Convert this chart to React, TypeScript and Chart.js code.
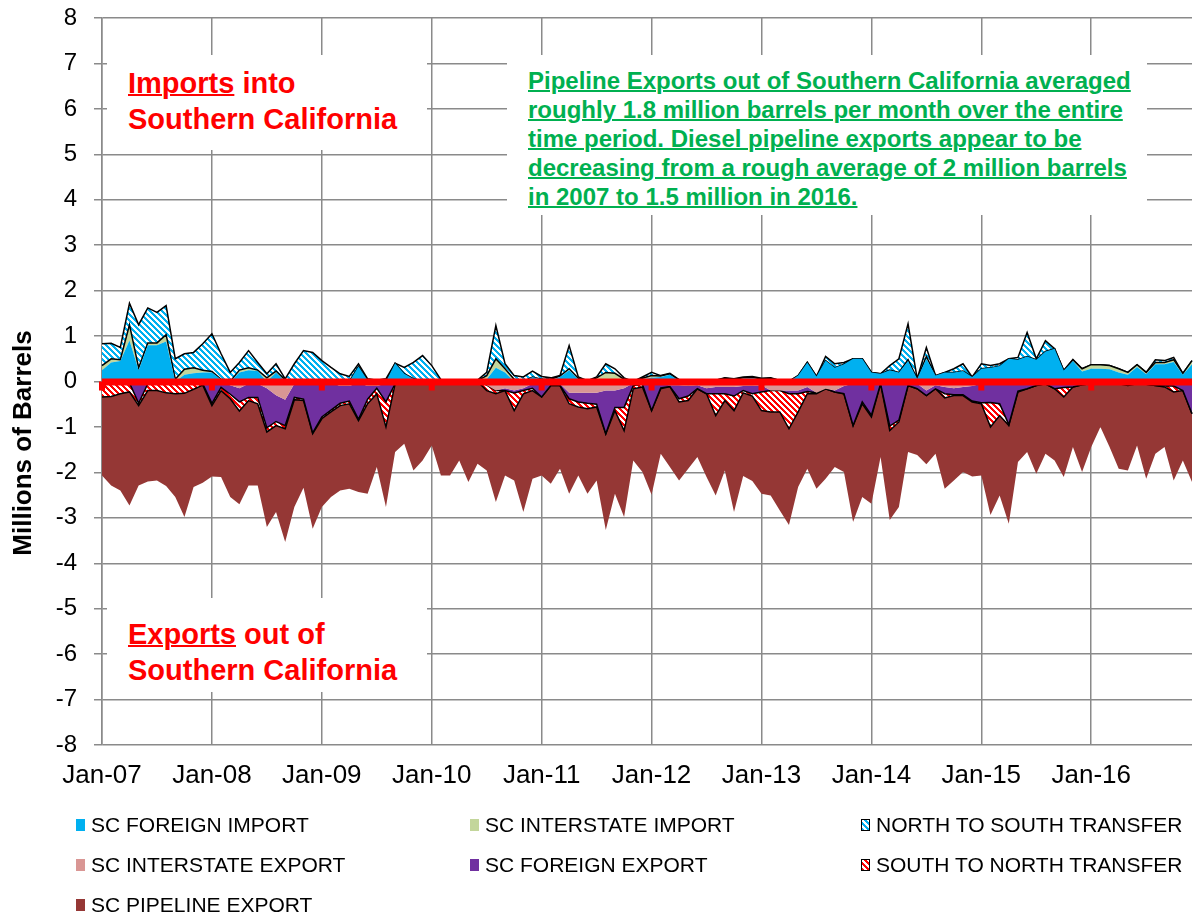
import React, { useEffect, useRef } from 'react';
import { Chart, registerables } from 'chart.js';

Chart.register(...registerables);

const MONTH_NAMES = ['Jan', 'Feb', 'Mar', 'Apr', 'May', 'Jun', 'Jul', 'Aug', 'Sep', 'Oct', 'Nov', 'Dec'];
const YEAR_SUFFIXES = ['07', '08', '09', '10', '11', '12', '13', '14', '15', '16'];
const categories: string[] = YEAR_SUFFIXES.flatMap((y) => MONTH_NAMES.map((m) => `${m}-${y}`));

const yearTickLabels = ['Jan-07', 'Jan-08', 'Jan-09', 'Jan-10', 'Jan-11', 'Jan-12', 'Jan-13', 'Jan-14', 'Jan-15', 'Jan-16'];

// Millions of barrels per month
const scForeignImport = [
  0.25, 0.42, 0.45, 0.9, 0.25, 0.8, 0.8, 0.88, 0.0, 0.15, 0.18, 0.2,
  0.2, 0.05, 0.0, 0.2, 0.25, 0.23, 0.0, 0.2, 0.0, 0.0, 0.0, 0.0,
  0.0, 0.0, 0.0, 0.0, 0.33, 0.03, 0.0, 0.0, 0.4, 0.17, 0.06, 0.0,
  0.0, 0.0, 0.0, 0.0, 0.0, 0.0, 0.05, 0.3, 0.2, 0.0, 0.0, 0.1,
  0.05, 0.03, 0.1, 0.25, 0.05, 0.0, 0.05, 0.05, 0.0, 0.0, 0.0, 0.05,
  0.08, 0.1, 0.15, 0.02, 0.02, 0.02, 0.02, 0.02, 0.05, 0.04, 0.06, 0.07,
  0.04, 0.05, 0.01, 0.0, 0.13, 0.42, 0.11, 0.46, 0.3, 0.38, 0.5, 0.5,
  0.2, 0.17, 0.25, 0.2, 0.45, 0.06, 0.5, 0.13, 0.2, 0.2, 0.23, 0.1,
  0.28, 0.3, 0.34, 0.5, 0.48, 0.55, 0.48, 0.66, 0.72, 0.24, 0.45, 0.22,
  0.28, 0.28, 0.27, 0.2, 0.15, 0.32, 0.16, 0.38, 0.38, 0.43, 0.15, 0.38,
];

const scInterstateImport = [
  0.1, 0.08, 0.03, 0.35, 0.05, 0.05, 0.05, 0.15, 0.05, 0.12, 0.12, 0.05,
  0.02, 0.0, 0.0, 0.05, 0.05, 0.02, 0.08, 0.03, 0.03, 0.0, 0.0, 0.0,
  0.0, 0.0, 0.0, 0.0, 0.0, 0.0, 0.0, 0.0, 0.0, 0.0, 0.0, 0.0,
  0.0, 0.0, 0.0, 0.0, 0.0, 0.02, 0.08, 0.2, 0.08, 0.05, 0.0, 0.0,
  0.0, 0.02, 0.02, 0.03, 0.02, 0.0, 0.03, 0.15, 0.18, 0.05, 0.0, 0.02,
  0.05, 0.02, 0.02, 0.01, 0.01, 0.01, 0.01, 0.01, 0.02, 0.01, 0.02, 0.02,
  0.02, 0.02, 0.01, 0.0, 0.0, 0.0, 0.0, 0.0, 0.0, 0.0, 0.0, 0.0,
  0.0, 0.0, 0.0, 0.0, 0.03, 0.0, 0.05, 0.0, 0.0, 0.0, 0.0, 0.0,
  0.0, 0.0, 0.0, 0.0, 0.0, 0.0, 0.0, 0.0, 0.0, 0.0, 0.03, 0.06,
  0.09, 0.09, 0.08, 0.08, 0.05, 0.05, 0.04, 0.04, 0.04, 0.05, 0.03, 0.08,
];

const northToSouthTransfer = [
  0.48, 0.34, 0.27, 0.47, 0.95, 0.77, 0.67, 0.64, 0.45, 0.34, 0.34, 0.58,
  0.83, 0.56, 0.2, 0.17, 0.38, 0.17, 0.09, 0.16, 0.03, 0.39, 0.68, 0.64,
  0.46, 0.31, 0.17, 0.11, 0.06, 0.03, 0.03, 0.06, 0.0, 0.14, 0.36, 0.57,
  0.35, 0.04, 0.0, 0.0, 0.0, 0.01, 0.07, 0.73, 0.11, 0.08, 0.1, 0.13,
  0.06, 0.03, 0.01, 0.51, 0.03, 0.02, 0.02, 0.19, 0.1, 0.03, 0.0, 0.03,
  0.07, 0.01, 0.01, 0.01, 0.0, 0.0, 0.0, 0.0, 0.01, 0.01, 0.02, 0.02,
  0.01, 0.01, 0.0, 0.0, 0.0, 0.0, 0.0, 0.09, 0.09, 0.04, 0.0, 0.0,
  0.0, 0.0, 0.1, 0.3, 0.79, 0.0, 0.2, 0.0, 0.0, 0.08, 0.16, 0.0,
  0.11, 0.05, 0.05, 0.0, 0.05, 0.53, 0.02, 0.24, 0.0, 0.0, 0.0, 0.0,
  0.0, 0.0, 0.0, 0.0, 0.0, 0.0, 0.0, 0.06, 0.04, 0.05, 0.0, 0.0,
];

const scInterstateExport = [
  -0.05, -0.05, -0.05, -0.03, -0.03, -0.05, -0.05, -0.05, -0.05, -0.06, -0.05, -0.05,
  -0.03, -0.03, -0.08, -0.15, -0.05, -0.05, -0.15, -0.3, -0.4, -0.05, -0.04, -0.03,
  -0.03, -0.03, -0.1, -0.1, -0.03, -0.1, -0.1, -0.05, -0.05, 0, 0, 0,
  -0.04, -0.02, 0, 0, 0, 0, -0.08, -0.2, -0.15, -0.2, -0.15, -0.05,
  -0.04, -0.05, -0.05, -0.25, -0.25, -0.25, -0.25, -0.2, -0.2, -0.15, -0.04, -0.04,
  -0.06, -0.06, -0.08, -0.08, -0.1, -0.08, -0.15, -0.12, -0.12, -0.12, -0.1, -0.1,
  -0.08, -0.2, -0.2, -0.2, -0.2, -0.12, -0.25, -0.16, -0.2, -0.1, -0.05, -0.05,
  -0.04, -0.03, -0.03, -0.03, -0.03, -0.05, -0.2, -0.08, -0.12, -0.15, -0.12, -0.1,
  -0.05, -0.04, -0.04, -0.03, -0.03, -0.03, -0.03, -0.02, -0.03, -0.03, -0.03, -0.03,
  -0.02, -0.02, -0.02, -0.02, -0.02, -0.02, -0.02, -0.02, -0.02, -0.02, -0.02, -0.02,
];

const scForeignExport = [
  0, 0, 0, 0, -0.45, 0, 0, 0, 0, 0, 0, 0,
  -0.45, -0.1, -0.2, -0.3, -0.3, -0.3, -0.87, -0.58, -0.57, -0.3, -0.35, -1.1,
  -0.75, -0.6, -0.38, -0.33, -0.8, -0.29, -0.05, -0.4, 0, 0, 0, 0,
  0, 0, 0, 0, 0, 0, 0, 0, -0.05, -0.05, -0.05, -0.1,
  -0.3, -0.04, -0.04, -0.13, -0.2, -0.23, -0.25, -0.95, -0.37, -0.42, -0.05, -0.02,
  -0.58, -0.08, -0.03, -0.3, -0.22, -0.08, -0.12, -0.15, -0.15, -0.2, -0.1, -0.17,
  -0.15, 0, 0, -0.07, -0.07, -0.1, 0, 0, -0.03, -0.17, -0.92, -0.4,
  -0.7, -0.02, -0.95, -0.82, -0.06, -0.11, -0.11, -0.08, -0.15, -0.14, -0.17, -0.33,
  -0.42, -0.42, -0.45, -0.92, -0.18, -0.13, -0.06, -0.03, -0.13, -0.1, -0.09, -0.04,
  -0.03, -0.03, -0.03, -0.03, -0.03, -0.03, -0.04, -0.07, -0.08, -0.08, -0.18, -0.69,
];

const southToNorthTransfer = [
  -0.29, -0.28, -0.22, -0.2, -0.05, -0.15, -0.15, -0.2, -0.22, -0.2, -0.12, -0.03,
  -0.05, -0.07, -0.1, -0.2, -0.07, -0.14, -0.09, -0.09, -0.07, -0.05, -0.03, -0.02,
  -0.04, -0.04, -0.05, -0.06, -0.03, -0.1, -0.12, -0.55, 0, 0, 0, 0,
  0, 0, 0, 0, 0, 0, -0.12, -0.07, 0, -0.39, -0.07, -0.05,
  0, 0, 0, -0.11, -0.11, -0.12, -0.06, 0, -0.07, -0.51, -0.07, -0.06,
  0, -0.02, 0, -0.07, -0.1, 0, 0, -0.48, -0.15, -0.32, -0.05, -0.05,
  -0.41, -0.47, -0.47, -0.77, -0.4, -0.05, -0.02, 0, 0, 0, 0, -0.04,
  -0.04, 0, -0.1, -0.04, 0, 0, 0, 0, -0.09, -0.02, -0.02, -0.02,
  -0.02, -0.54, -0.26, -0.02, -0.02, 0, 0, 0, 0, -0.21, 0, 0,
  0, 0, 0, 0, -0.04, 0, 0, 0, -0.02, -0.13, 0, 0,
];

const scPipelineExport = [
  -1.73, -1.96, -2.13, -2.5, -1.76, -2.0, -1.98, -2.05, -2.27, -2.72, -2.15, -2.15,
  -1.56, -1.9, -2.16, -2.05, -1.87, -1.8, -2.09, -1.9, -2.49, -2.36, -1.92, -2.09,
  -1.94, -1.87, -1.87, -1.87, -1.57, -1.98, -1.61, -1.76, -1.5, -1.37, -1.96, -1.74,
  -1.37, -2.05, -2.07, -1.74, -2.21, -1.81, -1.76, -2.38, -1.87, -1.54, -2.6, -1.94,
  -1.73, -2.16, -1.83, -1.98, -1.51, -1.87, -1.62, -2.12, -1.83, -1.9, -1.58, -1.87,
  -1.85, -1.43, -1.77, -1.73, -1.5, -1.5, -1.83, -1.76, -1.54, -2.23, -1.83, -1.87,
  -1.83, -1.84, -2.17, -2.12, -1.65, -1.65, -2.09, -1.98, -1.65, -1.72, -2.12, -2.05,
  -1.91, -1.61, -1.97, -1.87, -1.46, -1.46, -1.51, -1.43, -2.0, -1.87, -1.68, -1.64,
  -1.58, -1.94, -1.76, -2.16, -1.54, -1.39, -1.94, -1.54, -1.58, -1.76, -1.32, -1.92,
  -1.39, -0.95, -1.39, -1.87, -1.87, -1.36, -2.08, -1.5, -1.32, -1.95, -1.54, -1.5,
];

const FONT = "'Liberation Sans', Arial, sans-serif";
const GRID = '#8a8a8a';

function stripePattern(ctx: CanvasRenderingContext2D, fg: string, bg: string, period = 6, width = 3) {
  const c = document.createElement('canvas');
  c.width = period;
  c.height = period;
  const g = c.getContext('2d')!;
  g.fillStyle = bg;
  g.fillRect(0, 0, period, period);
  g.fillStyle = fg;
  for (let y = 0; y < period; y++) {
    for (let x = 0; x < period; x++) {
      if ((((x - y) % period) + period) % period < width) g.fillRect(x, y, 1, 1);
    }
  }
  return ctx.createPattern(c, 'repeat')!;
}

const zeroAxisPlugin = {
  id: 'zeroAxis',
  afterDatasetsDraw(chart: any) {
    const { ctx, chartArea, scales } = chart;
    const x = scales.x;
    const y = scales.y;
    const y0 = y.getPixelForValue(0);
    ctx.save();
    ctx.fillStyle = '#ff0000';
    ctx.fillRect(chartArea.left, y0 - 3, chartArea.right - chartArea.left, 7);
    for (let i = 0; i < categories.length; i += 12) {
      const px = x.getPixelForValue(i);
      ctx.fillRect(px - 3, y0, 6, 9);
    }
    ctx.restore();
  },
};

const legendItems = [
  { label: 'SC FOREIGN IMPORT', bg: '#00b0f0', border: false },
  { label: 'SC INTERSTATE IMPORT', bg: '#c3d69b', border: false },
  { label: 'NORTH TO SOUTH TRANSFER', bg: 'repeating-linear-gradient(45deg, #00b0f0 0px, #00b0f0 2px, #ffffff 2px, #ffffff 4px)', border: true },
  { label: 'SC INTERSTATE EXPORT', bg: '#d99694', border: false },
  { label: 'SC FOREIGN EXPORT', bg: '#7030a0', border: false },
  { label: 'SOUTH TO NORTH TRANSFER', bg: 'repeating-linear-gradient(45deg, #ff0000 0px, #ff0000 2px, #ffffff 2px, #ffffff 4px)', border: true },
  { label: 'SC PIPELINE EXPORT', bg: '#953735', border: false },
];
const legendCols = [76, 470, 861];
const legendRows = [825, 865, 905];

export default function App() {
  const ref = useRef<HTMLCanvasElement>(null);

  useEffect(() => {
    document.body.style.margin = '0';
    const canvas = ref.current!;
    const ctx = canvas.getContext('2d')!;
    const nsPattern = stripePattern(ctx, '#00b0f0', '#ffffff');
    const snPattern = stripePattern(ctx, '#ff0000', '#ffffff');
    const none = 'rgba(0,0,0,0)';
    const base = { pointRadius: 0, pointHoverRadius: 0, tension: 0 };

    const chart = new Chart(canvas, {
      type: 'line',
      data: {
        labels: categories,
        datasets: [
          { ...base, label: 'SC FOREIGN IMPORT', data: scForeignImport, stack: 'pos', fill: 'origin', backgroundColor: '#00b0f0', borderColor: none, borderWidth: 0 },
          { ...base, label: 'SC INTERSTATE IMPORT', data: scInterstateImport, stack: 'pos', fill: '-1', backgroundColor: '#c3d69b', borderColor: '#000000', borderWidth: 1.5 },
          { ...base, label: 'NORTH TO SOUTH TRANSFER', data: northToSouthTransfer, stack: 'pos', fill: '-1', backgroundColor: nsPattern, borderColor: '#000000', borderWidth: 1.5 },
          { ...base, label: 'SC INTERSTATE EXPORT', data: scInterstateExport, stack: 'neg', fill: 'origin', backgroundColor: '#d99694', borderColor: none, borderWidth: 0 },
          { ...base, label: 'SC FOREIGN EXPORT', data: scForeignExport, stack: 'neg', fill: '-1', backgroundColor: '#7030a0', borderColor: '#000000', borderWidth: 1.5 },
          { ...base, label: 'SOUTH TO NORTH TRANSFER', data: southToNorthTransfer, stack: 'neg', fill: '-1', backgroundColor: snPattern, borderColor: '#000000', borderWidth: 1.5 },
          { ...base, label: 'SC PIPELINE EXPORT', data: scPipelineExport, stack: 'neg', fill: '-1', backgroundColor: '#953735', borderColor: none, borderWidth: 0 },
        ] as any,
      },
      options: {
        animation: false,
        responsive: false,
        events: [],
        layout: { padding: { top: 18, right: 2, left: 0, bottom: 0 } },
        plugins: {
          legend: { display: false },
          tooltip: { enabled: false },
        },
        scales: {
          x: {
            type: 'category',
            offset: false,
            grid: { color: GRID, lineWidth: 1.5, drawTicks: false },
            border: { display: false },
            ticks: {
              autoSkip: false,
              maxRotation: 0,
              minRotation: 0,
              padding: 15,
              color: '#000000',
              font: { family: FONT, size: 26 },
              callback: (_v: any, index: number) => (index % 12 === 0 ? yearTickLabels[index / 12] : null),
            },
            afterFit: (scale: any) => {
              scale.height = 170;
            },
          },
          y: {
            stacked: true,
            min: -8,
            max: 8,
            grid: { color: GRID, lineWidth: 1.5, drawTicks: true, tickLength: 8 },
            border: { display: true, color: GRID, width: 1.5 },
            ticks: {
              stepSize: 1,
              padding: 17,
              color: '#000000',
              font: { family: FONT, size: 24 },
            },
            afterFit: (scale: any) => {
              scale.width = 102;
              scale.paddingTop = 0;
              scale.paddingBottom = 0;
            },
          },
        },
      } as any,
      plugins: [zeroAxisPlugin],
    });
    return () => chart.destroy();
  }, []);

  const redText: React.CSSProperties = {
    position: 'absolute',
    fontFamily: FONT,
    fontWeight: 'bold',
    fontSize: 29,
    lineHeight: '36px',
    color: '#ff0000',
    whiteSpace: 'nowrap',
  };

  return (
    <div style={{ position: 'absolute', left: 0, top: 0, width: 1194, height: 915, background: '#ffffff', overflow: 'hidden' }}>
      <canvas ref={ref} width={1194} height={915} style={{ position: 'absolute', left: 0, top: 0, width: 1194, height: 915 }} />

      <div style={{ position: 'absolute', left: 107, top: 55, width: 320, height: 95, background: '#ffffff' }} />
      <div style={{ ...redText, left: 128, top: 65 }}>
        <span style={{ textDecoration: 'underline', textDecorationThickness: '2px' }}>Imports</span> into
        <br />
        Southern California
      </div>

      <div style={{ position: 'absolute', left: 107, top: 598, width: 320, height: 94, background: '#ffffff' }} />
      <div style={{ ...redText, left: 128, top: 616 }}>
        <span style={{ textDecoration: 'underline', textDecorationThickness: '2px' }}>Exports</span> out of
        <br />
        Southern California
      </div>

      <div style={{ position: 'absolute', left: 507, top: 55, width: 640, height: 160, background: '#ffffff' }} />
      <div
        style={{
          position: 'absolute',
          left: 528,
          top: 66,
          fontFamily: FONT,
          fontWeight: 'bold',
          fontSize: 24,
          lineHeight: '29px',
          color: '#00b050',
          whiteSpace: 'nowrap',
          textDecoration: 'underline',
          textDecorationThickness: '2px',
        }}
      >
        Pipeline Exports out of Southern California averaged
        <br />
        roughly 1.8 million barrels per month over the entire
        <br />
        time period. Diesel pipeline exports appear to be
        <br />
        decreasing from a rough average of 2 million barrels
        <br />
        in 2007 to 1.5 million in 2016.
      </div>

      <div
        style={{
          position: 'absolute',
          left: 22 - 150,
          top: 443 - 15,
          width: 300,
          height: 30,
          lineHeight: '30px',
          textAlign: 'center',
          transform: 'rotate(-90deg)',
          fontFamily: FONT,
          fontWeight: 'bold',
          fontSize: 26,
          color: '#000000',
          whiteSpace: 'nowrap',
        }}
      >
        Millions of Barrels
      </div>

      {legendItems.map((item, k) => {
        const left = legendCols[k % 3];
        const cy = legendRows[Math.floor(k / 3)];
        return (
          <React.Fragment key={item.label}>
            <div
              style={{
                position: 'absolute',
                left,
                top: cy - 6,
                width: item.border ? 7 : 9,
                height: item.border ? 10 : 12,
                background: item.bg,
                border: item.border ? '1px solid #000' : 'none',
              }}
            />
            <div
              style={{
                position: 'absolute',
                left: left + 15,
                top: cy - 14,
                height: 28,
                lineHeight: '28px',
                fontFamily: FONT,
                fontSize: 21,
                color: '#000000',
                whiteSpace: 'nowrap',
              }}
            >
              {item.label}
            </div>
          </React.Fragment>
        );
      })}
    </div>
  );
}
